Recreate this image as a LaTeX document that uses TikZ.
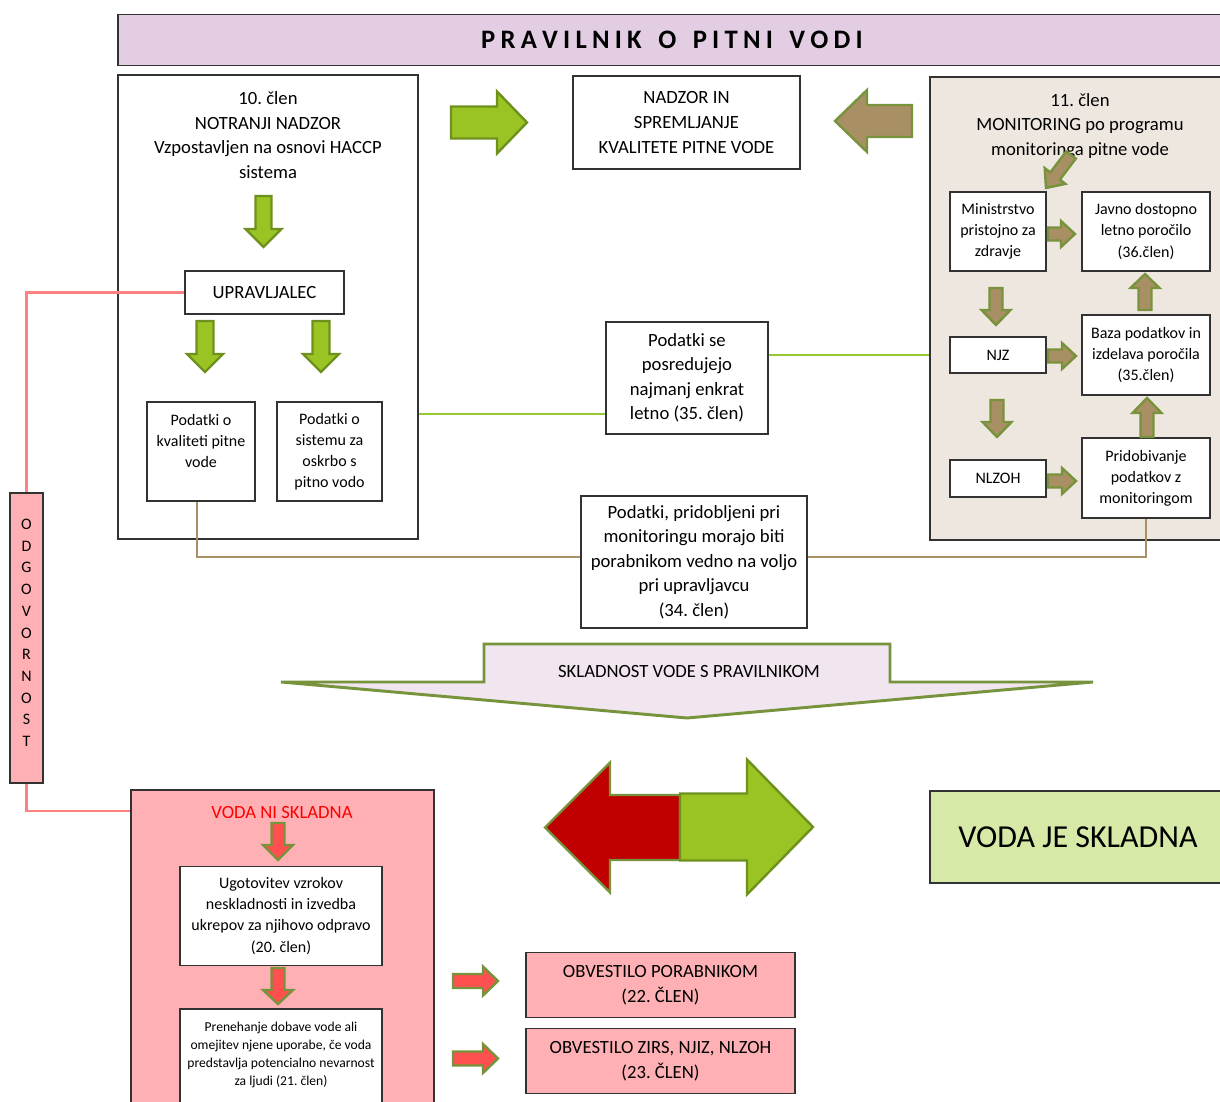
\documentclass[tikz,border=0pt]{standalone}
\usepackage{fontspec}
\setmainfont{Carlito}
\frenchspacing
\usetikzlibrary{fit}
\definecolor{bline}{RGB}{50,50,50}
\definecolor{titlefill}{RGB}{226,205,227}
\definecolor{panel}{RGB}{238,231,224}
\definecolor{agreen}{RGB}{154,196,36}
\definecolor{agreendk}{RGB}{110,145,30}
\definecolor{abrown}{RGB}{168,143,100}
\definecolor{bgreen}{RGB}{119,147,60}
\definecolor{ared}{RGB}{255,80,80}
\definecolor{dred}{RGB}{192,0,0}
\definecolor{pinkfill}{RGB}{255,176,180}
\definecolor{jefill}{RGB}{215,233,167}
\definecolor{skfill}{RGB}{241,230,240}
\definecolor{glinec}{RGB}{150,200,50}
\definecolor{brlinec}{RGB}{168,143,100}
\definecolor{plinec}{RGB}{255,128,128}
\newcommand\lsp{\kern0.196em}
% right arrow: xtail, xtip, cy, shaft half, head half, head length, style
\newcommand\arrR[7]{\draw[#7] (#1,#3-#4) -- (#2-#6,#3-#4) -- (#2-#6,#3-#5) -- (#2,#3) -- (#2-#6,#3+#5) -- (#2-#6,#3+#4) -- (#1,#3+#4) -- cycle;}
% left arrow: xtip, xtail, cy, ...
\newcommand\arrL[7]{\draw[#7] (#2,#3-#4) -- (#1+#6,#3-#4) -- (#1+#6,#3-#5) -- (#1,#3) -- (#1+#6,#3+#5) -- (#1+#6,#3+#4) -- (#2,#3+#4) -- cycle;}
% down arrow: cx, ytail, ytip, ...
\newcommand\arrD[7]{\draw[#7] (#1-#4,#2) -- (#1+#4,#2) -- (#1+#4,#3-#6) -- (#1+#5,#3-#6) -- (#1,#3) -- (#1-#5,#3-#6) -- (#1-#4,#3-#6) -- cycle;}
% up arrow: cx, ytip, ytail, ...
\newcommand\arrU[7]{\draw[#7] (#1-#4,#3) -- (#1+#4,#3) -- (#1+#4,#2+#6) -- (#1+#5,#2+#6) -- (#1,#2) -- (#1-#5,#2+#6) -- (#1-#4,#2+#6) -- cycle;}
\begin{document}
\begin{tikzpicture}[x=0.75pt,y=-0.75pt,
  bx/.style 2 args={minimum width=#1*0.75pt, minimum height=#2*0.75pt},
  box/.style={draw=bline, line width=0.9pt, fill=white, inner sep=0pt, align=center},
  pbox/.style={draw=bline, line width=0.9pt, fill=pinkfill, inner sep=0pt, align=center},
  f14/.style={font=\fontsize{14}{18.4}\selectfont},
  f12/.style={font=\fontsize{12}{15.8}\selectfont},
  garrow/.style={fill=agreen, draw=agreendk, line width=1.8pt, line join=miter},
  barrow/.style={fill=abrown, draw=bgreen, line width=1.8pt, line join=miter},
  rarrow/.style={fill=ared, draw=bgreen, line width=1.8pt, line join=miter},
  gline/.style={draw=glinec, line width=1.8pt},
  bnline/.style={draw=brlinec, line width=1.9pt},
  pline/.style={draw=plinec, line width=1.8pt}]
\useasboundingbox (0,0) rectangle (1220,1102);

% title
\node[bx={1108}{51}, fill=titlefill, draw=bline, line width=1pt, inner sep=0pt,
      font=\fontsize{20}{22}\selectfont\bfseries] (title) at (672,40)
  {P\lsp R\lsp A\lsp V\lsp I\lsp L\lsp N\lsp I\lsp K\lsp\ \lsp O\lsp\ \lsp P\lsp I\lsp T\lsp N\lsp I\lsp\ \lsp V\lsp O\lsp D\lsp I};

% left block
\node[box, bx={300}{464}] (lbox) at (268,307) {};
\node[f14, align=center] (ltxt) at (268,135) {10. člen\\NOTRANJI NADZOR\\Vzpostavljen na osnovi HACCP\\sistema};
\node[box, f14, bx={159}{43}] (upr) at (264.5,292.5) {UPRAVLJALEC};
\node[box, f12, bx={108}{99}] (pk) at (201,451.5) {Podatki o\\kvaliteti pitne\\vode\\\mbox{}};
\node[box, f12, bx={105}{99}] (ps) at (329.5,451.5) {Podatki o\\sistemu za\\oskrbo s\\pitno vodo};

% centre top
\node[box, f14, bx={227}{93}] (nadzor) at (686.5,122.5) {NADZOR IN\\SPREMLJANJE\\KVALITETE PITNE VODE};

% right block
\node[bx={296}{463}, fill=panel, draw=bline, line width=0.9pt, inner sep=0pt] (rbox) at (1078,308.5) {};
\node[f14, align=center] (rtxt) at (1080,126) {11. člen\\MONITORING po programu\\monitoringa pitne vode};
\node[box, f12, bx={96}{79}] (min) at (998,231.5) {Ministrstvo\\pristojno za\\zdravje};
\node[box, f12, bx={128}{79}] (jav) at (1146,231.5) {Javno dostopno\\letno poročilo\\(36.člen)};
\node[box, f12, bx={96}{36}] (njz) at (998,355) {NJZ};
\node[box, f12, bx={128}{80}] (baza) at (1146,355) {Baza podatkov in\\izdelava poročila\\(35.člen)};
\node[box, f12, bx={96}{37}] (nlzoh) at (998,478.5) {NLZOH};
\node[box, f12, bx={128}{80}] (prid) at (1146,478) {Pridobivanje\\podatkov z\\monitoringom};

% middle info boxes
\node[box, f14, bx={162}{112}] (podse) at (687,378) {Podatki se\\posredujejo\\najmanj enkrat\\letno (35. člen)};
\node[box, f14, bx={226}{132}] (podpr) at (694,562) {Podatki, pridobljeni pri\\monitoringu morajo biti\\porabnikom vedno na voljo\\pri upravljavcu\\(34. člen)};

% connectors
\coordinate (y414) at (0,414);
\coordinate (y557) at (0,557);
\coordinate (y811) at (0,811);
\draw[gline] (lbox.east |- y414) -- (podse.west |- y414);
\draw[gline] (podse.east |- njz) -- (rbox.west |- njz);
\draw[bnline] ([xshift=-3pt]pk.south) -- ([xshift=-3pt]pk.south |- y557) -- (podpr.west |- y557);
\draw[bnline] (podpr.east |- y557) -- (prid.south |- y557) -- (prid.south);

% arrows top
\arrR{451}{527}{122.5}{16}{31}{30}{garrow}
\arrL{835}{912}{121}{16}{31}{32}{barrow}
\arrD{263.5}{196}{247}{8}{18}{18}{garrow}
\arrD{205}{321}{372}{8.5}{18}{18}{garrow}
\arrD{321}{321}{372}{8.5}{18}{18}{garrow}

% right panel arrows
\draw[barrow] (1075.8,158.6) -- (1059.9,179.6) -- (1065.4,183.9) -- (1046,188) -- (1044.7,168.1) -- (1050.3,172.4) -- (1066.2,151.4) -- cycle;
\arrR{1048}{1075}{234}{6.5}{13}{14}{barrow}
\arrR{1048}{1076}{356}{6.5}{13}{14}{barrow}
\arrR{1048}{1076}{481}{6.5}{13}{14}{barrow}
\arrD{996}{288}{325}{6.5}{14.5}{15}{barrow}
\arrD{997}{400}{437}{6.5}{14.5}{15}{barrow}
\arrU{1145}{274}{310}{6.5}{14.5}{14}{barrow}
\arrU{1147}{398}{437}{6.5}{14.5}{15}{barrow}

% compliance arrow
\draw[fill=skfill, draw=bgreen, line width=2.2pt, line join=miter]
  (484,644) -- (890,644) -- (890,682) -- (1093,682) -- (687,718) -- (281,682) -- (484,682) -- cycle;
\node[font=\fontsize{14}{16}\selectfont] (skl) at (689,672) {SKLADNOST VODE S PRAVILNIKOM};

% double arrow
\arrL{545}{680}{827.5}{32.5}{65}{65}{fill=dred, draw=bgreen, line width=1.8pt, line join=miter}
\arrR{680}{813}{827}{33.5}{67.5}{66}{fill=agreen, draw=agreendk, line width=1.8pt, line join=miter}

\node[bx={296}{92}, fill=jefill, draw=bline, line width=0.9pt, inner sep=0pt,
      font=\fontsize{24}{28}\selectfont] (vje) at (1078,837) {VODA JE SKLADNA};

% responsibility bar
\node[fit={(10,493)(43,783)}, fill=pinkfill, draw=bline, line width=0.9pt, inner sep=0pt,
      align=center, font=\fontsize{12}{16.3}\selectfont] (odg) {O\\D\\G\\O\\V\\O\\R\\N\\O\\S\\T};

% non-compliance block
\node[pbox, bx={303}{322}] (vni) at (282.5,951) {};
\node[f14, text=red] (vnit) at (282,812) {VODA NI SKLADNA};
\node[box, f12, bx={202}{99}] (ugot) at (281,916) {Ugotovitev vzrokov\\neskladnosti in izvedba\\ukrepov za njihovo odpravo\\(20. člen)};
\node[box, font=\fontsize{10.2}{13.5}\selectfont, bx={202}{99}] (pren) at (281,1058.5) {Prenehanje dobave vode ali\\omejitev njene uporabe, če voda\\predstavlja potencialno nevarnost\\za ljudi (21. člen)\\[-6pt]\mbox{}};
\arrD{278}{823}{860}{6.5}{15}{15}{rarrow}
\arrD{278}{968}{1004}{6.5}{15}{14}{rarrow}

\draw[pline] (upr.west) -| (odg.north);
\draw[pline] (odg.south) |- (vni.west |- y811);

% notifications
\arrR{453}{498}{981}{7}{14.5}{15}{rarrow}
\arrR{453}{498}{1058.5}{7}{14.5}{15}{rarrow}
\node[pbox, f14, bx={269}{65}] (ob1) at (660.5,985) {OBVESTILO PORABNIKOM\\(22. ČLEN)};
\node[pbox, f14, bx={269}{65}] (ob2) at (660.5,1061) {OBVESTILO ZIRS, NJIZ, NLZOH\\(23. ČLEN)};
\end{tikzpicture}
\end{document}
